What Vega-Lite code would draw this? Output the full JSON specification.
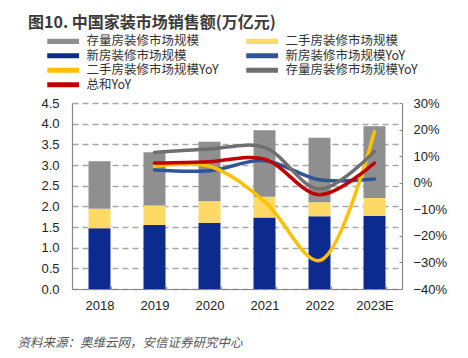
{
  "$schema": "https://vega.github.io/schema/vega-lite/v6.json",
  "width": 330,
  "height": 186,
  "padding": {"left": 17, "top": 15, "right": 5, "bottom": 5},
  "background": "white",
  "title": {
    "text": "图10. 中国家装市场销售额(万亿元)",
    "anchor": "start",
    "frame": "group",
    "dx": -44,
    "offset": 4,
    "font": "Noto Sans CJK SC",
    "fontSize": 16,
    "fontWeight": "bold",
    "color": "#3a3a3a"
  },
  "datasets": {
    "bars": [
      {"year": "2018", "series": "新房装修市场规模", "k": 1, "value": 1.47},
      {"year": "2018", "series": "二手房装修市场规模", "k": 2, "value": 0.47},
      {"year": "2018", "series": "存量房装修市场规模", "k": 3, "value": 1.15},
      {"year": "2019", "series": "新房装修市场规模", "k": 1, "value": 1.55},
      {"year": "2019", "series": "二手房装修市场规模", "k": 2, "value": 0.47},
      {"year": "2019", "series": "存量房装修市场规模", "k": 3, "value": 1.29},
      {"year": "2020", "series": "新房装修市场规模", "k": 1, "value": 1.60},
      {"year": "2020", "series": "二手房装修市场规模", "k": 2, "value": 0.52},
      {"year": "2020", "series": "存量房装修市场规模", "k": 3, "value": 1.44},
      {"year": "2021", "series": "新房装修市场规模", "k": 1, "value": 1.73},
      {"year": "2021", "series": "二手房装修市场规模", "k": 2, "value": 0.50},
      {"year": "2021", "series": "存量房装修市场规模", "k": 3, "value": 1.61},
      {"year": "2022", "series": "新房装修市场规模", "k": 1, "value": 1.76},
      {"year": "2022", "series": "二手房装修市场规模", "k": 2, "value": 0.34},
      {"year": "2022", "series": "存量房装修市场规模", "k": 3, "value": 1.56},
      {"year": "2023E", "series": "新房装修市场规模", "k": 1, "value": 1.77},
      {"year": "2023E", "series": "二手房装修市场规模", "k": 2, "value": 0.43},
      {"year": "2023E", "series": "存量房装修市场规模", "k": 3, "value": 1.74}
    ],
    "yoy": [
      {"year": "2019", "series": "新房装修市场规模YoY", "value": 0.048},
      {"year": "2020", "series": "新房装修市场规模YoY", "value": 0.045},
      {"year": "2021", "series": "新房装修市场规模YoY", "value": 0.083},
      {"year": "2022", "series": "新房装修市场规模YoY", "value": 0.011},
      {"year": "2023E", "series": "新房装修市场规模YoY", "value": 0.014},
      {"year": "2019", "series": "二手房装修市场规模YoY", "value": 0.062},
      {"year": "2020", "series": "二手房装修市场规模YoY", "value": 0.062},
      {"year": "2021", "series": "二手房装修市场规模YoY", "value": -0.07},
      {"year": "2022", "series": "二手房装修市场规模YoY", "value": -0.293},
      {"year": "2023E", "series": "二手房装修市场规模YoY", "value": 0.193},
      {"year": "2019", "series": "存量房装修市场规模YoY", "value": 0.114},
      {"year": "2020", "series": "存量房装修市场规模YoY", "value": 0.127},
      {"year": "2021", "series": "存量房装修市场规模YoY", "value": 0.133},
      {"year": "2022", "series": "存量房装修市场规模YoY", "value": -0.024},
      {"year": "2023E", "series": "存量房装修市场规模YoY", "value": 0.118},
      {"year": "2019", "series": "总和YoY", "value": 0.074},
      {"year": "2020", "series": "总和YoY", "value": 0.079},
      {"year": "2021", "series": "总和YoY", "value": 0.089},
      {"year": "2022", "series": "总和YoY", "value": -0.045},
      {"year": "2023E", "series": "总和YoY", "value": 0.074}
    ]
  },
  "layer": [
    {
      "data": {"name": "bars"},
      "mark": {"type": "bar"},
      "encoding": {
        "x": {
          "field": "year",
          "type": "ordinal",
          "sort": null,
          "scale": {"paddingInner": 0.6, "paddingOuter": 0.3},
          "axis": {
            "title": "资料来源：奥维云网，安信证券研究中心",
            "titleFont": "Noto Sans CJK SC",
            "titleFontSize": 12.5,
            "titleFontWeight": "normal",
            "titleFontStyle": "italic",
            "titleColor": "#555555",
            "titleAnchor": "start",
            "titleAlign": "left",
            "titleX": -55,
            "titleY": 53,
            "titleBaseline": "middle",
            "labelAngle": 0,
            "labelFont": "Liberation Sans",
            "labelFontSize": 13,
            "labelColor": "#222222",
            "labelPadding": 13,
            "tickBand": "extent",
            "tickSize": -3,
            "tickColor": "#888888",
            "domainColor": "#888888",
            "domainWidth": 1.2
          }
        },
        "y": {
          "field": "value",
          "type": "quantitative",
          "stack": "zero",
          "scale": {"domain": [0, 4.5], "nice": false},
          "axis": {
            "title": null,
            "values": [0, 0.5, 1, 1.5, 2, 2.5, 3, 3.5, 4, 4.5],
            "format": ".1f",
            "labelFont": "Liberation Sans",
            "labelFontSize": 13,
            "labelColor": "#222222",
            "labelPadding": 13,
            "ticks": false,
            "domainColor": "#888888",
            "domainWidth": 1.2,
            "grid": true,
            "gridColor": "#a6a6a6",
            "gridDash": [6, 4],
            "gridWidth": 1.5
          }
        },
        "order": {"field": "k", "type": "quantitative"},
        "color": {
          "field": "series",
          "type": "nominal",
          "scale": {
            "domain": ["存量房装修市场规模", "二手房装修市场规模", "新房装修市场规模", "新房装修市场规模YoY", "二手房装修市场规模YoY", "存量房装修市场规模YoY", "总和YoY"],
            "range": ["#8f8f8f", "#ffd966", "#0d2a8e", "#2f5597", "#ffc000", "#6f6f6f", "#c00000"]
          },
          "legend": {
            "title": null,
            "orient": "none",
            "direction": "horizontal",
            "legendX": -28,
            "legendY": -68,
            "columns": 2,
            "columnPadding": 24,
            "rowPadding": 1.5,
            "symbolType": "M-1,-0.85H9.6V0.85H-1Z",
            "symbolSize": 36,
            "symbolStrokeWidth": 0,
            "labelOffset": 30,
            "labelFont": "Noto Sans CJK SC",
            "labelFontSize": 12.5,
            "labelColor": "#333333",
            "labelLimit": 300,
            "encode": {
              "symbols": {
                "update": {
                  "fill": {"scale": "color", "field": "value"},
                  "stroke": {"value": "transparent"},
                  "opacity": {"value": 1}
                }
              }
            }
          }
        }
      }
    },
    {
      "data": {"name": "yoy"},
      "mark": {"type": "line", "interpolate": "catmull-rom", "strokeWidth": 3.5, "strokeCap": "round"},
      "encoding": {
        "x": {"field": "year", "type": "ordinal", "sort": null},
        "y": {
          "field": "value",
          "type": "quantitative",
          "scale": {"domain": [-0.4, 0.3], "nice": false},
          "axis": {
            "orient": "right",
            "title": null,
            "values": [-0.4, -0.3, -0.2, -0.1, 0, 0.1, 0.2, 0.3],
            "format": ".0%",
            "labelFont": "Liberation Sans",
            "labelFontSize": 13,
            "labelColor": "#222222",
            "labelPadding": 14,
            "tickSize": -3,
            "tickColor": "#888888",
            "domainColor": "#888888",
            "domainWidth": 1.2,
            "grid": false
          }
        },
        "color": {"field": "series", "type": "nominal"}
      }
    }
  ],
  "resolve": {"scale": {"y": "independent"}},
  "config": {
    "view": {"stroke": null},
    "axis": {"labelFontWeight": "normal"}
  }
}
